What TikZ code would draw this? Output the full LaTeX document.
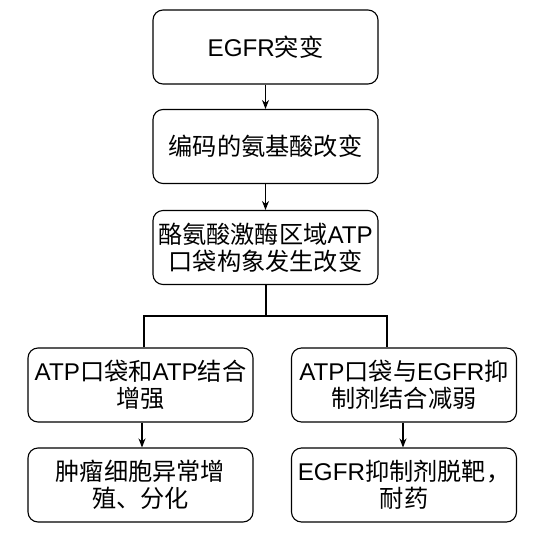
\documentclass[tikz,border=0pt]{standalone}
\usepackage{fontspec}
\setmainfont{Liberation Sans}
\newfontfamily\cjk{Noto Sans CJK SC}
\usetikzlibrary{arrows.meta}
\begin{document}
\begin{tikzpicture}[x=1pt,y=-1pt,
  box/.style={draw=black,line width=1.1pt,rounded corners=10pt,minimum width=225pt,minimum height=74pt,
    inner sep=0pt,align=center,font=\fontsize{24.2}{27}\selectfont},
  arr/.style={line width=1.1pt,-{Stealth[length=9pt,width=7pt]}},
  bar/.style={line width=2pt}]
\useasboundingbox (0,0) rectangle (538,542);
\node[box] (b1) at (265.5,47) {EGFR{\cjk 突变}};
\node[box] (b2) at (265.5,146.5) {\cjk 编码的氨基酸改变};
\node[box] (b3) at (265.5,247.5) {{\cjk 酪氨酸激酶区域}ATP\\{\cjk 口袋构象发生改变}};
\node[box] (b4) at (140.5,385) {ATP{\cjk 口袋和}ATP{\cjk 结合}\\{\cjk 增强}};
\node[box] (b5) at (404,385) {ATP{\cjk 口袋与}EGFR{\cjk 抑}\\{\cjk 制剂结合减弱}};
\node[box] (b6) at (140.5,485) {{\cjk 肿瘤细胞异常增}\\{\cjk 殖、分化}};
\node[box] (b7) at (404,485) {EGFR{\cjk 抑制剂脱靶，}\\{\cjk 耐药}};
\coordinate (jl) at (144,316);
\coordinate (jr) at (387,316);
\draw[arr] (b1) -- (b2);
\draw[arr] (b2) -- (b3);
\draw[bar] (b3.south) -- (b3.south |- jl);
\draw[bar] (jl |- b4.north) -- (jl) -- (jr) -- (jr |- b5.north);
\draw[arr] (b4.south -| 142,0) -- (b6.north -| 142,0);
\draw[arr] (b5.south -| 403,0) -- (b7.north -| 403,0);
\end{tikzpicture}
\end{document}
